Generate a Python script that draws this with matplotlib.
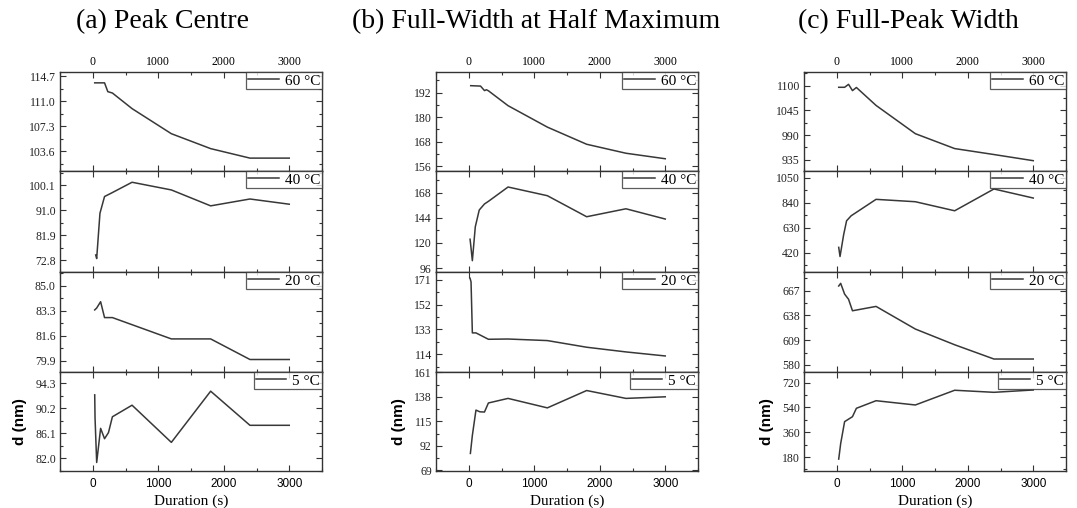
from __future__ import annotations

from typing import List, Sequence

import matplotlib

matplotlib.use("Agg")
import matplotlib.pyplot as plt
from matplotlib.ticker import FixedLocator, MultipleLocator

# ---- data -------------------------------------------------------------------
temperatures = ["60 °C", "40 °C", "20 °C", "5 °C"]
panel_titles = ["(a) Peak Centre", "(b) Full-Width at Half Maximum", "(c) Full-Peak Width"]

# (a) Peak centre
pc_60_t = [30, 180, 230, 300, 600, 1200, 1800, 2400, 3000]
pc_60 = [113.7, 113.7, 112.4, 112.2, 109.9, 106.2, 104.0, 102.6, 102.6]
pc_40_t = [45, 60, 110, 180, 280, 600, 1200, 1800, 2400, 3000]
pc_40 = [74.7, 73.4, 89.9, 96.0, 97.2, 101.2, 98.4, 92.6, 95.1, 93.2]
pc_20_t = [30, 60, 120, 180, 300, 1200, 1800, 2400, 3000]
pc_20 = [83.37, 83.5, 83.93, 82.85, 82.85, 81.4, 81.4, 80.0, 80.0]
pc_5_t = [30, 35, 60, 120, 180, 240, 300, 600, 1200, 1800, 2400, 3000]
pc_5 = [92.4, 88.6, 81.3, 86.9, 85.2, 86.2, 88.8, 90.7, 84.6, 93.0, 87.4, 87.4]

# (b) Full-width at half maximum
fw_60_t = [30, 180, 240, 270, 300, 600, 1200, 1800, 2400, 3000]
fw_60 = [195.4, 195.2, 193.0, 193.4, 192.9, 185.6, 175.1, 166.7, 162.3, 159.6]
fw_40_t = [20, 30, 55, 100, 160, 240, 300, 600, 1200, 1800, 2400, 3000]
fw_40 = [123.5, 118.0, 103.0, 135.4, 151.4, 157.2, 159.7, 173.4, 165.1, 145.0, 152.6, 142.8]
fw_20_t = [20, 35, 55, 110, 300, 600, 1200, 1800, 2400, 3000]
fw_20 = [172.3, 169.5, 130.4, 130.4, 125.5, 125.7, 124.5, 119.4, 115.8, 112.7]
fw_5_t = [25, 55, 110, 170, 240, 300, 600, 1200, 1800, 2400, 3000]
fw_5 = [84.9, 101.8, 125.6, 124.0, 123.8, 132.3, 136.6, 127.7, 144.0, 136.6, 138.1]

# (c) Full-peak width
fp_60_t = [30, 120, 180, 240, 300, 600, 1200, 1800, 2400, 3000]
fp_60 = [1096.4, 1096.4, 1103.0, 1089.0, 1096.0, 1056.0, 993.0, 959.8, 946.5, 932.8]
fp_40_t = [30, 50, 105, 150, 220, 600, 1200, 1800, 2400, 3000]
fp_40 = [465, 388, 570, 688, 730, 868, 848, 772, 955, 879]
fp_20_t = [30, 60, 120, 180, 240, 600, 1200, 1800, 2400, 3000]
fp_20 = [672.5, 675.6, 663.0, 657.0, 643.5, 648.6, 622.1, 603.7, 587.0, 587.0]
fp_5_t = [30, 60, 120, 240, 300, 600, 1200, 1800, 2400, 3000]
fp_5 = [165, 278, 437, 473, 534, 589, 558, 665, 650, 667]

# y tick values and ranges, one row per temperature
pc_yticks = [[103.6, 107.3, 111.0, 114.7], [72.8, 81.9, 91.0, 100.1],
             [79.9, 81.6, 83.3, 85.0], [82.0, 86.1, 90.2, 94.3]]
pc_ylims = [(100.7, 115.3), (68.5, 105.3), (79.15, 85.95), (79.9, 96.15)]
fw_yticks = [[156, 168, 180, 192], [96, 120, 144, 168],
             [114, 133, 152, 171], [69, 92, 115, 138, 161]]
fw_ylims = [(153.6, 202.1), (92.2, 188.7), (100.4, 177.1), (68.4, 161.4)]
fp_yticks = [[935, 990, 1045, 1100], [420, 630, 840, 1050],
             [580, 609, 638, 667], [180, 360, 540, 720]]
fp_ylims = [(909.8, 1130.5), (258, 1106), (571.8, 688.9), (78.4, 797.6)]

x_ticks = [0, 1000, 2000, 3000]

LINE_COLOR = "#383838"
SERIF = ["Liberation Serif", "DejaVu Serif"]
SANS = ["Liberation Sans", "DejaVu Sans"]

W, H = 1077, 508
COL_X = [(60, 322), (436, 698), (804, 1066)]
ROW_Y = [72, 171, 272, 372, 471]
TITLE_X = [163, 536, 908]
YLABEL_X = [20, 399, 767]


def _frac_box(x0: float, x1: float, y_top: float, y_bot: float) -> List[float]:
    return [x0 / W, 1 - y_bot / H, (x1 - x0) / W, (y_bot - y_top) / H]


def draw_column(
    fig: plt.Figure,
    col: int,
    series: Sequence[tuple],
    yticks: Sequence[Sequence[float]],
    ylims: Sequence[tuple],
    decimals: int,
) -> None:
    x0, x1 = COL_X[col]
    for row, ((t, v), ticks, lim, label) in enumerate(zip(series, yticks, ylims, temperatures)):
        ax = fig.add_axes(_frac_box(x0, x1, ROW_Y[row], ROW_Y[row + 1]))
        ax.plot(t, v, color=LINE_COLOR, lw=1.1, label=label)
        ax.set_xlim(-500, 3500)
        ax.set_ylim(*lim)

        ax.xaxis.set_major_locator(FixedLocator(x_ticks))
        ax.xaxis.set_minor_locator(MultipleLocator(500))
        ax.set_yticks(ticks, [f"{tk:.{decimals}f}" for tk in ticks])
        step = ticks[1] - ticks[0]
        minors = [tk + step / 2 for tk in [ticks[0] - step] + list(ticks)]
        ax.yaxis.set_minor_locator(FixedLocator(minors))

        ax.tick_params(which="both", direction="in", top=True, right=True,
                       color="#333333", width=0.8)
        ax.tick_params(which="major", length=4)
        ax.tick_params(which="minor", length=2.5)
        ax.tick_params(axis="y", labelsize=8.5, pad=3, labelcolor="#222222")
        for lbl in ax.get_yticklabels():
            lbl.set_family(SERIF)

        if row == 0:
            ax.tick_params(axis="x", labeltop=True, labelbottom=False, labelsize=8.5, pad=3)
            for lbl in ax.get_xticklabels():
                lbl.set_family(SERIF)
        elif row == 3:
            ax.tick_params(axis="x", labelbottom=True, labelsize=8.5, pad=5)
            for lbl in ax.get_xticklabels():
                lbl.set_family(SANS)
            ax.set_xlabel("Duration (s)", family=SERIF, fontsize=11, labelpad=3)
        else:
            ax.tick_params(axis="x", labelbottom=False)

        for spine in ax.spines.values():
            spine.set_linewidth(1.0)
            spine.set_color("#333333")

        leg = ax.legend(loc="upper right", borderaxespad=0, fancybox=False,
                        frameon=True, handlelength=2.0, handletextpad=0.4,
                        borderpad=0.12, prop={"family": SERIF, "size": 11})
        leg.get_frame().set_edgecolor("#333333")
        leg.get_frame().set_linewidth(0.9)

    fig.text(TITLE_X[col] / W, 1 - 22 / H, panel_titles[col], family=SERIF,
             fontsize=20, ha="center", va="center")
    y_mid = (ROW_Y[3] + ROW_Y[4]) / 2
    fig.text(YLABEL_X[col] / W, 1 - y_mid / H, "d (nm)", family=SANS,
             fontweight="bold", fontsize=11, rotation=90, ha="center", va="center")


def main() -> None:
    fig = plt.figure(figsize=(W / 100, H / 100), dpi=100)
    draw_column(fig, 0, [(pc_60_t, pc_60), (pc_40_t, pc_40), (pc_20_t, pc_20), (pc_5_t, pc_5)],
                pc_yticks, pc_ylims, 1)
    draw_column(fig, 1, [(fw_60_t, fw_60), (fw_40_t, fw_40), (fw_20_t, fw_20), (fw_5_t, fw_5)],
                fw_yticks, fw_ylims, 0)
    draw_column(fig, 2, [(fp_60_t, fp_60), (fp_40_t, fp_40), (fp_20_t, fp_20), (fp_5_t, fp_5)],
                fp_yticks, fp_ylims, 0)
    fig.savefig("out.png", dpi=100)
    plt.close(fig)


if __name__ == "__main__":
    main()
